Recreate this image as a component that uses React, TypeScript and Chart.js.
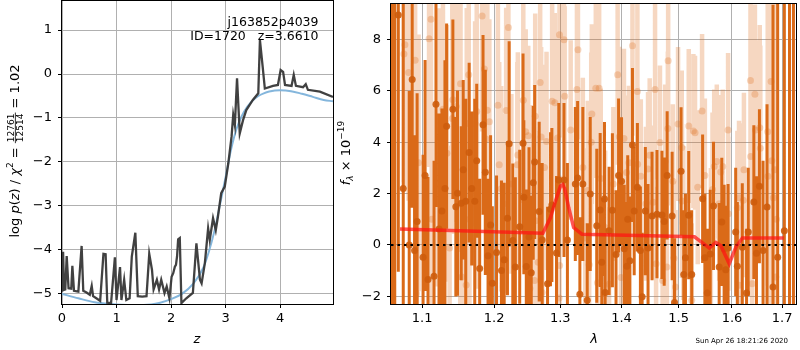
import React, { useEffect, useRef } from 'react';
import { Chart, registerables } from 'chart.js';
Chart.register(...registerables);

// ---------------- Left panel: log p(z) ----------------
const zValues = [0.0, 0.02, 0.037, 0.06, 0.086, 0.12, 0.17, 0.19, 0.22, 0.30, 0.36, 0.39, 0.45, 0.51, 0.545, 0.57, 0.63, 0.70, 0.76, 0.80, 0.83, 0.90, 0.97, 1.00, 1.064, 1.09, 1.14, 1.18, 1.24, 1.28, 1.345, 1.39, 1.47, 1.55, 1.60, 1.65, 1.68, 1.74, 1.78, 1.82, 1.88, 1.92, 1.97, 2.01, 2.04, 2.07, 2.09, 2.11, 2.13, 2.16, 2.19, 2.28, 2.40, 2.465, 2.53, 2.56, 2.62, 2.68, 2.71, 2.77, 2.82, 2.86, 2.92, 2.985, 3.05, 3.11, 3.14, 3.17, 3.21, 3.26, 3.32, 3.38, 3.50, 3.60, 3.63, 3.68, 3.72, 3.87, 3.96, 4.01, 4.055, 4.09, 4.21, 4.25, 4.29, 4.42, 4.47, 4.51, 4.73, 4.97];
const logPz = [-4.95, -4.04, -4.91, -4.90, -4.14, -4.87, -4.88, -4.36, -4.93, -4.95, -3.91, -4.93, -4.97, -5.02, -4.82, -5.05, -5.10, -5.16, -4.09, -4.10, -5.20, -5.21, -4.17, -5.14, -4.39, -5.14, -4.68, -5.14, -5.10, -4.15, -3.61, -5.05, -5.06, -5.05, -4.09, -4.45, -4.90, -4.68, -4.90, -4.68, -4.98, -4.83, -5.10, -4.61, -4.53, -4.38, -4.34, -4.15, -3.76, -3.73, -5.21, -5.10, -4.98, -3.85, -4.68, -4.76, -4.30, -3.51, -3.77, -3.28, -3.55, -3.24, -2.71, -2.56, -2.03, -1.42, -0.93, -1.16, -0.10, -1.35, -1.05, -0.82, -0.59, -0.44, 0.77, 0.17, -0.33, -0.27, -0.25, 0.09, 0.05, -0.25, -0.27, -0.02, -0.27, -0.30, -0.23, -0.36, -0.40, -0.52];

const zPrior = [0.0, 0.3, 0.6, 0.9, 1.2, 1.5, 1.8, 2.0, 2.2, 2.4, 2.6, 2.8, 2.9, 3.0, 3.1, 3.2, 3.3, 3.4, 3.5, 3.6, 3.7, 3.8, 4.0, 4.2, 4.4, 4.6, 4.8, 4.97];
const logPrior = [-5.0, -5.1, -5.19, -5.23, -5.25, -5.25, -5.2, -5.12, -5.0, -4.78, -4.38, -3.55, -2.95, -2.35, -1.72, -1.25, -0.95, -0.74, -0.6, -0.5, -0.44, -0.4, -0.37, -0.39, -0.45, -0.52, -0.59, -0.62];

const zTicks = [0, 1, 2, 3, 4];
const logPTicks = [-5, -4, -3, -2, -1, 0, 1];

// ---------------- Right panel: spectrum ----------------
const darkWave = [1.0607, 1.0642, 1.0688, 1.0752, 1.0830, 1.0869, 1.0900, 1.0934, 1.1013, 1.1040, 1.1079, 1.1160, 1.1186, 1.1227, 1.1267, 1.1308, 1.1331, 1.1417, 1.1458, 1.1481, 1.1533, 1.1561, 1.1596, 1.1644, 1.1680, 1.1723, 1.1751, 1.1793, 1.1841, 1.1874, 1.1913, 1.1950, 1.1975, 1.2036, 1.2108, 1.2148, 1.2196, 1.2221, 1.2275, 1.2313, 1.2378, 1.2428, 1.2440, 1.2477, 1.2518, 1.2552, 1.2582, 1.2604, 1.2673, 1.2719, 1.2802, 1.2848, 1.2869, 1.2941, 1.2977, 1.3059, 1.3113, 1.3239, 1.3276, 1.3312, 1.3360, 1.3431, 1.3480, 1.3587, 1.3643, 1.3669, 1.3714, 1.3725, 1.3791, 1.3846, 1.3907, 1.3950, 1.4000, 1.4046, 1.4091, 1.4105, 1.4142, 1.4186, 1.4216, 1.4271, 1.4323, 1.4353, 1.4409, 1.4456, 1.4526, 1.4613, 1.4701, 1.4741, 1.4794, 1.4883, 1.4926, 1.5045, 1.5094, 1.5125, 1.5185, 1.5240, 1.5442, 1.5484, 1.5529, 1.5585, 1.5647, 1.5754, 1.5804, 1.5849, 1.5880, 1.5925, 1.6072, 1.6104, 1.6201, 1.6285, 1.6318, 1.6429, 1.6481, 1.6540, 1.6613, 1.6693, 1.6814, 1.6909, 1.7046, 1.7153, 1.7235];
const darkFlux = [12.0, -5.0, 8.96, 2.2, 0.0, 6.45, -0.22, 0.91, -0.48, 2.71, -1.35, -1.22, 5.48, 0.62, 1.32, 2.2, 4.63, 5.29, 1.49, 2.02, 1.63, 2.93, 1.70, 3.6, 2.2, 1.70, 3.28, -0.92, 4.68, 2.83, -0.42, 0.78, -1.49, -0.29, -0.99, -0.58, 1.04, 3.94, 0.17, -0.86, 0.71, 3.96, 1.86, -0.84, 0.31, -1.08, 2.42, 3.23, 1.3, 0.19, -1.51, 1.39, 1.56, -0.31, 2.53, 2.53, 0.19, 2.38, 2.61, -1.92, 2.38, -2.15, 1.99, 0.75, 1.36, -0.67, 1.79, -1.85, 0.55, 1.35, -0.37, 2.71, 2.48, -0.15, -0.83, 1.0, -0.61, 3.9, 1.32, 2.25, -0.22, -2.02, 1.32, -0.12, 1.13, 1.2, 1.17, 0.91, 2.71, 1.13, -2.24, 2.87, -1.15, -0.5, 1.16, -1.15, 1.8, -0.5, -1.87, -0.35, 1.52, -0.86, 0.9, -0.15, -0.97, -0.12, 0.51, -0.83, -0.09, -1.87, 0.51, 1.67, -0.32, 2.29, -0.22, 1.48, -1.64, -0.48, 0.55, 12.0, -6.0];
const darkErr = [16, 16, 10, 8, 6, 5, 4.5, 5, 4, 4.5, 4, 4.5, 4, 4.5, 4, 5, 4, 3.5, 3.5, 4, 3, 3.5, 4, 3.5, 3, 4, 3, 3.5, 3.5, 4, 3, 3.5, 3, 3, 3.5, 3, 3, 4, 3, 3.5, 3, 3.5, 3, 3, 3.5, 3, 3, 3, 3.5, 3, 3, 3, 3, 3, 3, 3, 3, 3, 3, 3, 3, 3, 3, 3, 3, 2.5, 3, 2.5, 2.5, 3, 2.5, 3, 2.5, 2.5, 2.5, 2.5, 2.5, 3, 2.5, 2.5, 2.5, 2.5, 2.5, 2.5, 2.5, 2.5, 2.5, 2.5, 2.5, 2.5, 2.5, 2.5, 2.5, 2.5, 2.5, 2.5, 2.5, 2.5, 2.5, 2.5, 2.5, 2.5, 2.5, 2.5, 2.5, 2.5, 2.5, 2.5, 2.5, 2.5, 2.5, 3, 3, 3, 3.5, 4, 11, 11, 12, 16, 16];

const lightWave = [1.0761, 1.0774, 1.0822, 1.0908, 1.0926, 1.0953, 1.1093, 1.1119, 1.1128, 1.1205, 1.1227, 1.1281, 1.1290, 1.1335, 1.1372, 1.1409, 1.1417, 1.1464, 1.1519, 1.1523, 1.1541, 1.1602, 1.1610, 1.1638, 1.1648, 1.1728, 1.1751, 1.1756, 1.1828, 1.1860, 1.1884, 1.1903, 1.1932, 1.2056, 1.2075, 1.2104, 1.2143, 1.2177, 1.2210, 1.2254, 1.2342, 1.2350, 1.2432, 1.2468, 1.2507, 1.2532, 1.2558, 1.2573, 1.2603, 1.2612, 1.2618, 1.2657, 1.2688, 1.2703, 1.2719, 1.2755, 1.2786, 1.2873, 1.2915, 1.2957, 1.2982, 1.2988, 1.2990, 1.3059, 1.3070, 1.3165, 1.3265, 1.3281, 1.3360, 1.3399, 1.3441, 1.3463, 1.3496, 1.3506, 1.3571, 1.3598, 1.3626, 1.3652, 1.3725, 1.3791, 1.3862, 1.3934, 1.3962, 1.3990, 1.4041, 1.4085, 1.4126, 1.4186, 1.4271, 1.4275, 1.4330, 1.4419, 1.4456, 1.4485, 1.4545, 1.4579, 1.4597, 1.4666, 1.4713, 1.4759, 1.4789, 1.4806, 1.4812, 1.4896, 1.4914, 1.4944, 1.4990, 1.5057, 1.5062, 1.5087, 1.5185, 1.5240, 1.5271, 1.5301, 1.5351, 1.5432, 1.5484, 1.5597, 1.5628, 1.5660, 1.5709, 1.5754, 1.5784, 1.5822, 1.5925, 1.5930, 1.6104, 1.6137, 1.6140, 1.6220, 1.6233, 1.6362, 1.6366, 1.6395, 1.6450, 1.6462, 1.6547, 1.6558, 1.6707, 1.6712, 1.6775, 1.6789, 1.6821, 1.6852, 1.6871, 1.6884];
const lightFlux = [7.44, 7.8, 6.72, 7.2, -1.89, 3.2, 8.04, 8.8, 1.0, 2.38, 4.22, 5.29, 3.13, 3.57, -0.12, 4.93, 5.66, 5.4, -0.14, 6.28, -1.25, -1.56, 4.73, 6.63, 1.0, 4.72, 5.2, 2.29, 8.92, 6.86, 4.13, 5.25, 4.8, 5.44, 3.13, 2.19, 1.61, 5.24, 8.47, 2.38, 3.13, 3.51, 5.64, 4.41, 4.26, -1.7, 1.45, 0.35, -1.38, 5.02, 0.94, -0.67, 6.33, 4.21, -1.85, 3.02, 4.03, 5.6, 5.54, 4.17, -2.07, 8.19, -0.8, 8.0, 5.8, 4.48, 6.06, 7.61, 3.02, 0.27, 2.12, -0.77, 4.0, 5.1, 6.11, -1.47, 6.11, 2.59, 0.68, -1.53, 2.38, 6.63, 4.22, -1.27, 4.15, 2.82, 3.2, 7.76, 5.98, 3.15, 2.68, 1.61, 2.96, 3.5, 1.66, 6.06, -0.73, 3.99, -1.38, 3.25, -0.86, 4.54, 7.18, 2.48, -0.52, -1.64, 4.71, 3.8, 1.71, 0.86, 4.64, -2.15, 4.44, 4.37, 2.25, 5.22, 2.71, 0.0, 2.16, 3.06, 3.25, 1.61, 2.84, 3.06, 4.48, 1.22, 1.45, 1.84, -1.57, 1.74, 2.93, 6.41, 3.45, -1.51, 5.87, 4.48, 4.57, 3.77, 4.41, 2.68, 6.37, 3.28, 1.84, 2.93, -1.25, 1.0];
const lightErr = [5, 5.5, 5, 4.5, 4, 5, 5, 4.5, 4.5, 4, 5, 4.5, 4, 5, 4, 4.5, 4, 4.5, 4, 4.5, 4, 4, 4.5, 4, 4, 4, 4.5, 4, 4.5, 4, 4, 4.5, 4, 4, 4, 4, 3.5, 4, 4.5, 3.5, 4, 4, 4, 4, 3.5, 3.5, 4, 3.5, 3.5, 4, 3.5, 3.5, 4, 3.5, 3.5, 4, 3.5, 4, 3.5, 4, 3.5, 4, 3.5, 4, 3.5, 3.5, 4, 3.5, 3.5, 3.5, 3.5, 3.5, 3.5, 3.5, 3.5, 3.5, 3.5, 3.5, 3, 3, 3, 3.5, 3.5, 3, 3.5, 3, 3, 3.5, 3.5, 3, 3, 3, 3, 3, 3, 3.5, 3, 3, 3, 3, 3, 3, 3.5, 3, 3, 3, 3, 3, 3, 3, 3, 3, 3, 3, 3, 3, 3, 3, 3, 3, 3, 3, 3, 3, 3, 3, 3, 3, 3, 3, 3, 3.5, 3, 3, 3.5, 3.5, 4, 4, 6, 6, 6, 8, 8, 8, 8, 8];

const modelWave = [1.0710, 1.2730, 1.2848, 1.2925, 1.3003, 1.3039, 1.3070, 1.3134, 1.3212, 1.3345, 1.5290, 1.5568, 1.5692, 1.5787, 1.5947, 1.6074, 1.6203, 1.7035];
const modelFlux = [0.62, 0.46, 1.07, 1.71, 2.29, 2.35, 2.2, 1.45, 0.68, 0.42, 0.32, -0.12, 0.1, -0.03, -0.73, -0.09, 0.27, 0.27];

const waveTicks = [1.1, 1.2, 1.3, 1.4, 1.5, 1.6, 1.7];
const fluxTicks = [-2, 0, 2, 4, 6, 8];

const FAMILY = 'DejaVu Sans';
const tickFont = { family: FAMILY, size: 13 };
const fmt = (v: number, d = 0) => (v < 0 ? '\u2212' : '') + Math.abs(v).toFixed(d);

function errorSegments(w: number[], f: number[], e: number[]) {
  const out: any[] = [];
  for (let i = 0; i < w.length; i++) {
    out.push({ x: w[i], y: f[i] - e[i] });
    out.push({ x: w[i], y: f[i] + e[i] });
    out.push({ x: w[i], y: null });
  }
  return out;
}
const pts = (xs: number[], ys: number[]) => xs.map((x, i) => ({ x, y: ys[i] }));

type Run = { t?: string; f?: string; dy?: number; frac?: [string, string]; ff?: string };
function drawRuns(ctx: CanvasRenderingContext2D, runs: Run[], cx: number, cy: number, rotate: boolean) {
  ctx.save();
  ctx.translate(cx, cy);
  if (rotate) ctx.rotate(-Math.PI / 2);
  ctx.fillStyle = '#000';
  ctx.textBaseline = 'alphabetic';
  ctx.textAlign = 'left';
  const widths = runs.map((r) => {
    if (r.frac) {
      ctx.font = r.ff!;
      return Math.max(ctx.measureText(r.frac[0]).width, ctx.measureText(r.frac[1]).width) + 2;
    }
    ctx.font = r.f!;
    return ctx.measureText(r.t!).width;
  });
  const total = widths.reduce((a, b) => a + b, 0);
  let x = -total / 2;
  runs.forEach((r, i) => {
    const w = widths[i];
    if (r.frac) {
      ctx.font = r.ff!;
      ctx.textAlign = 'center';
      ctx.fillText(r.frac[0], x + w / 2, -4.8);
      ctx.fillText(r.frac[1], x + w / 2, 4.6);
      ctx.fillRect(x, -3.6, w, 0.8);
      ctx.textAlign = 'left';
    } else {
      ctx.font = r.f!;
      ctx.fillText(r.t!, x, r.dy || 0);
    }
    x += w;
  });
  ctx.restore();
}

const framePlugin = {
  id: 'frame',
  afterDatasetsDraw(chart: any) {
    const { ctx, chartArea: a } = chart;
    ctx.save();
    ctx.strokeStyle = '#000';
    ctx.lineWidth = 1;
    ctx.strokeRect(Math.round(a.left) - 0.5, Math.round(a.top) - 0.5, Math.round(a.right - a.left) + 1, Math.round(a.bottom - a.top) + 1);
    ctx.restore();
  },
};

const F13 = `13px "${FAMILY}"`;
const FI13 = `oblique 13px "${FAMILY}"`;
const F9 = `9px "${FAMILY}"`;
const FI9 = `oblique 9px "${FAMILY}"`;

const leftTextPlugin = {
  id: 'leftText',
  afterDraw(chart: any) {
    const ctx = chart.ctx as CanvasRenderingContext2D;
    drawRuns(ctx, [
      { t: 'log ', f: F13 }, { t: 'p', f: FI13 }, { t: '(', f: F13 }, { t: 'z', f: FI13 }, { t: ') / ', f: F13 },
      { t: '\u03c7', f: FI13 }, { t: '2', f: F9, dy: -6 }, { t: ' = ', f: F13 },
      { frac: ['12761', '12514'], ff: F9 }, { t: ' = 1.02', f: F13 },
    ], 18.5, 151, true);
    ctx.save();
    ctx.fillStyle = '#000';
    ctx.font = FI13;
    ctx.textAlign = 'center';
    ctx.textBaseline = 'middle';
    ctx.fillText('z', 197, 340);
    ctx.font = `12.5px "${FAMILY}"`;
    ctx.textAlign = 'right';
    ctx.textBaseline = 'alphabetic';
    ctx.fillText('j163852p4039', 318.5, 25.5);
    ctx.fillText('ID=1720   z=3.6610', 318.5, 39.5);
    ctx.restore();
  },
};

const rightTextPlugin = {
  id: 'rightText',
  afterDraw(chart: any) {
    const ctx = chart.ctx as CanvasRenderingContext2D;
    drawRuns(ctx, [
      { t: 'f', f: FI13 }, { t: '\u03bb', f: FI9, dy: 3 }, { t: ' \u00d7 10', f: F13 }, { t: '\u221219', f: F9, dy: -6 },
    ], 349.5, 153, true);
    ctx.save();
    ctx.fillStyle = '#000';
    ctx.font = FI13;
    ctx.textAlign = 'center';
    ctx.textBaseline = 'middle';
    ctx.fillText('\u03bb', 594, 340);
    ctx.font = `7px "${FAMILY}"`;
    ctx.textAlign = 'right';
    ctx.textBaseline = 'alphabetic';
    ctx.fillText('Sun Apr 26 18:21:26 2020', 788, 343);
    ctx.restore();
  },
};

const gridOpts = { color: '#b0b0b0', tickColor: '#000', tickLength: 4, lineWidth: 1 };

function fixY(width: number) {
  return (s: any) => { s.width = width; s.paddingTop = 0; s.paddingBottom = 0; s.paddingLeft = 0; s.paddingRight = 0; };
}
function fixX(height: number) {
  return (s: any) => { s.height = height; s.paddingTop = 0; s.paddingBottom = 0; s.paddingLeft = 0; s.paddingRight = 0; };
}

function leftConfig(): any {
  return {
    type: 'scatter',
    data: {
      datasets: [
        { data: pts(zValues, logPz), showLine: true, borderColor: 'rgba(55,55,55,0.95)', borderWidth: 2.3, pointRadius: 0, order: 0 },
        { data: pts(zPrior, logPrior), showLine: true, borderColor: 'rgba(125,178,218,0.95)', borderWidth: 2, pointRadius: 0, cubicInterpolationMode: 'monotone', order: 1 },
      ],
    },
    options: {
      responsive: false,
      animation: false,
      events: [],
      devicePixelRatio: 1,
      layout: { padding: { left: 0, top: 1, right: 467, bottom: 0 } },
      plugins: { legend: { display: false }, tooltip: { enabled: false } },
      scales: {
        x: {
          type: 'linear', min: 0, max: 4.97,
          afterBuildTicks: (s: any) => { s.ticks = zTicks.map((v) => ({ value: v })); },
          afterFit: fixX(46),
          grid: gridOpts, border: { display: false },
          ticks: { color: '#000', font: tickFont, padding: 3, maxRotation: 0, autoSkip: false, callback: (v: number) => fmt(v) },
        },
        y: {
          type: 'linear', min: -5.23, max: 1.66,
          afterBuildTicks: (s: any) => { s.ticks = logPTicks.map((v) => ({ value: v })); },
          afterFit: fixY(62),
          grid: gridOpts, border: { display: false },
          ticks: { color: '#000', font: tickFont, padding: 6, autoSkip: false, callback: (v: number) => fmt(v) },
        },
      },
    },
    plugins: [framePlugin, leftTextPlugin],
  };
}

function rightConfig(): any {
  const darkColor = 'rgb(218,106,24)';
  const lightColor = 'rgba(221,112,32,0.28)';
  return {
    type: 'scatter',
    data: {
      datasets: [
        { data: pts(modelWave, modelFlux), showLine: true, borderColor: 'rgba(255,20,20,0.72)', borderWidth: 3.5, pointRadius: 0, order: 0 },
        { data: [{ x: 1.0594, y: 0 }, { x: 1.7288, y: 0 }], showLine: true, borderColor: '#000', borderWidth: 2, borderDash: [2.5, 4], pointRadius: 0, order: 1 },
        { data: pts(darkWave, darkFlux), pointRadius: 3.5, pointBackgroundColor: 'rgba(205,92,12,0.9)', pointBorderWidth: 0, order: 2 },
        { data: errorSegments(darkWave, darkFlux, darkErr), showLine: true, spanGaps: false, borderColor: darkColor, borderWidth: 3, pointRadius: 0, order: 3 },
        { data: pts(lightWave, lightFlux), pointRadius: 3.5, pointBackgroundColor: lightColor, pointBorderWidth: 0, order: 4 },
        { data: errorSegments(lightWave, lightFlux, lightErr), showLine: true, spanGaps: false, borderColor: lightColor, borderWidth: 4.5, pointRadius: 0, order: 5 },
      ],
    },
    options: {
      responsive: false,
      animation: false,
      events: [],
      devicePixelRatio: 1,
      layout: { padding: { left: 0, top: 1, right: 1, bottom: 0 } },
      plugins: { legend: { display: false }, tooltip: { enabled: false } },
      scales: {
        x: {
          type: 'logarithmic', min: 1.0594, max: 1.7288,
          afterBuildTicks: (s: any) => { s.ticks = waveTicks.map((v) => ({ value: v })); },
          afterFit: fixX(46),
          grid: gridOpts, border: { display: false },
          ticks: { color: '#000', font: tickFont, padding: 3, maxRotation: 0, autoSkip: false, callback: (v: number) => v.toFixed(1) },
        },
        y: {
          type: 'linear', min: -2.30, max: 9.39,
          afterBuildTicks: (s: any) => { s.ticks = fluxTicks.map((v) => ({ value: v })); },
          afterFit: fixY(391),
          grid: gridOpts, border: { display: false },
          ticks: { color: '#000', font: tickFont, padding: 6, autoSkip: false, callback: (v: number) => fmt(v) },
        },
      },
    },
    plugins: [framePlugin, rightTextPlugin],
  };
}

export default function App() {
  const leftRef = useRef<HTMLCanvasElement>(null);
  const rightRef = useRef<HTMLCanvasElement>(null);
  useEffect(() => {
    document.body.style.margin = '0';
    const c1 = new Chart(leftRef.current as HTMLCanvasElement, leftConfig());
    const c2 = new Chart(rightRef.current as HTMLCanvasElement, rightConfig());
    return () => { c1.destroy(); c2.destroy(); };
  }, []);
  const cs: React.CSSProperties = { position: 'absolute', left: 0, top: 0, width: 800, height: 350 };
  return (
    <div style={{ position: 'fixed', left: 0, top: 0, width: 800, height: 350, background: '#fff' }}>
      <canvas ref={leftRef} width={800} height={350} style={cs} />
      <canvas ref={rightRef} width={800} height={350} style={cs} />
    </div>
  );
}
